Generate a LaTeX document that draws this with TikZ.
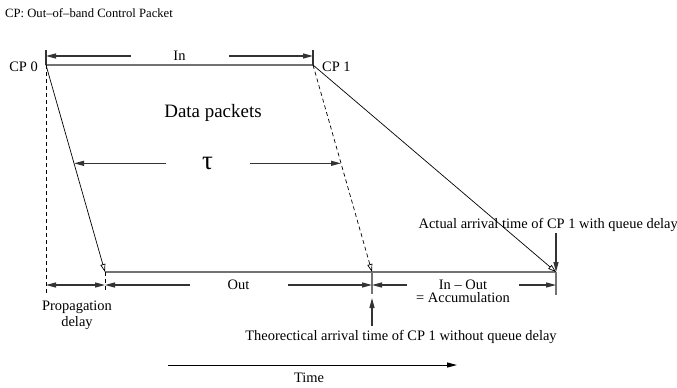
\documentclass[tikz,border=0pt]{standalone}
\usepackage{fontspec}
\setmainfont{Liberation Serif}
\usetikzlibrary{arrows.meta,positioning,calc}

\tikzset{
  dimline/.style={draw=black!80, line width=1.2bp, {Triangle[length=10bp,width=5bp]}-{Triangle[length=10bp,width=5bp]}},
  pointer/.style={draw=black!80, line width=1.2bp, -{Triangle[length=10bp,width=5bp]}},
  packet/.style={draw=black, line width=0.7bp, -{Triangle[open,length=8bp,width=5bp]}},
  timeline/.style={draw=black!55, line width=1.8bp},
  guide/.style={draw=black, line width=0.7bp, dashed, dash pattern=on 4bp off 3bp},
  gap/.style={fill=white, anchor=center, pos=0.5, inner sep=1bp}
}

\begin{document}
\begin{tikzpicture}[x=1bp, y=-1bp, font=\fontsize{14.5}{16.5}\selectfont]
  \useasboundingbox (0,0) rectangle (677,387);

  \node[anchor=west, inner sep=0, font=\fontsize{12.7}{14}\selectfont] (legend) at (5,13) {CP: Out--of--band Control Packet};

  % sender side
  \coordinate []  (cp0) at (46,65) ;
  \coordinate []  (cp1) at (313,65) ;
  \coordinate []  (in0) at (46,56) ;
  \coordinate []  (in1) at (313,56) ;
  \coordinate []  (tick0) at (46,50) ;
  \coordinate []  (tick1) at (313,50) ;
  \node[anchor=east, inner sep=0] (cp0lbl) at (38,67) {CP 0};
  \node[anchor=west, inner sep=0] (cp1lbl) at (322,67) {CP 1};
  \draw[timeline] (cp0) -- (cp1);
  \draw[draw=black!80, line width=1.2bp] (tick0) -- (cp0);
  \draw[draw=black!80, line width=1.2bp] (tick1) -- (cp1);
  \draw[dimline] (in0) -- node[gap, minimum width=98bp] {In} (in1);

  % receiver side
  \coordinate []  (arr0) at (105,272) ;
  \coordinate []  (arrth) at (372,272) ;
  \coordinate []  (arrq) at (556,272) ;
  \coordinate []  (drop0) at (46,293) ;
  \coordinate []  (drop1) at (105,293) ;
  \coordinate []  (droptick) at (372,294) ;
  \coordinate []  (droptickq) at (556,295) ;
  \draw[timeline] (arr0) -- (arrq);
  \draw[draw=black!55, line width=1.5bp] (arrth) -- (droptick);
  \draw[draw=black!55, line width=1.5bp] (arrq) -- (droptickq);
  \draw[guide] (cp0) -- (drop0);
  \draw[guide] (arr0) -- (drop1);

  % packets
  \draw[packet] (cp0) -- (arr0);
  \draw[packet, dashed, dash pattern=on 4bp off 3bp] (cp1) -- (arrth);
  \draw[packet] (cp1) -- (arrq);

  \node (data) at (213,113) {\fontsize{19}{21}\selectfont Data packets};

  % tau
  \coordinate []  (tau0) at ($(cp0)!0.475!(arr0)$) ;
  \coordinate []  (tau1) at ($(cp1)!0.475!(arrth)$) ;
  \draw[dimline] (tau0) -- node[gap, minimum width=84bp] {\fontsize{27}{27}\selectfont τ} (tau1);

  % bottom dimensions
  \coordinate []  (out0) at (46,285) ;
  \coordinate []  (out1) at (105,285) ;
  \coordinate []  (out2) at (372,285) ;
  \coordinate []  (out3) at (556,285) ;
  \draw[dimline] (out0) -- (out1);
  \draw[dimline] (out1) -- node[gap, minimum width=98bp] {Out} (out2);
  \draw[dimline] (out2) -- node[gap, minimum width=112bp, xshift=-1bp] (inout) {In -- Out} (out3);
  \node[below=0bp of inout, inner sep=1bp] (acc) {= Accumulation};
  \node[align=center, inner sep=0] (prop) at (77,315) {Propagation\\delay};

  % arrival annotations
  \node[anchor=east, inner sep=0] (actual) at (678,225) {Actual arrival time of CP 1 with queue delay};
  \coordinate []  (actualtop) at (556,233) ;
  \draw[pointer] (actualtop) -- (arrq);
  \node[inner sep=0] (theo) at (401,337) {Theorectical arrival time of CP 1 without queue delay};
  \coordinate []  (theotop) at (372,326) ;
  \coordinate []  (theotip) at (372,298) ;
  \draw[pointer] (theotop) -- (theotip);

  % time axis
  \coordinate []  (time0) at (168,365) ;
  \coordinate []  (time1) at (457,365) ;
  \draw[pointer, draw=black, line width=1bp] (time0) -- (time1);
  \node[inner sep=0] (timelbl) at (309,378) {Time};
\end{tikzpicture}
\end{document}
